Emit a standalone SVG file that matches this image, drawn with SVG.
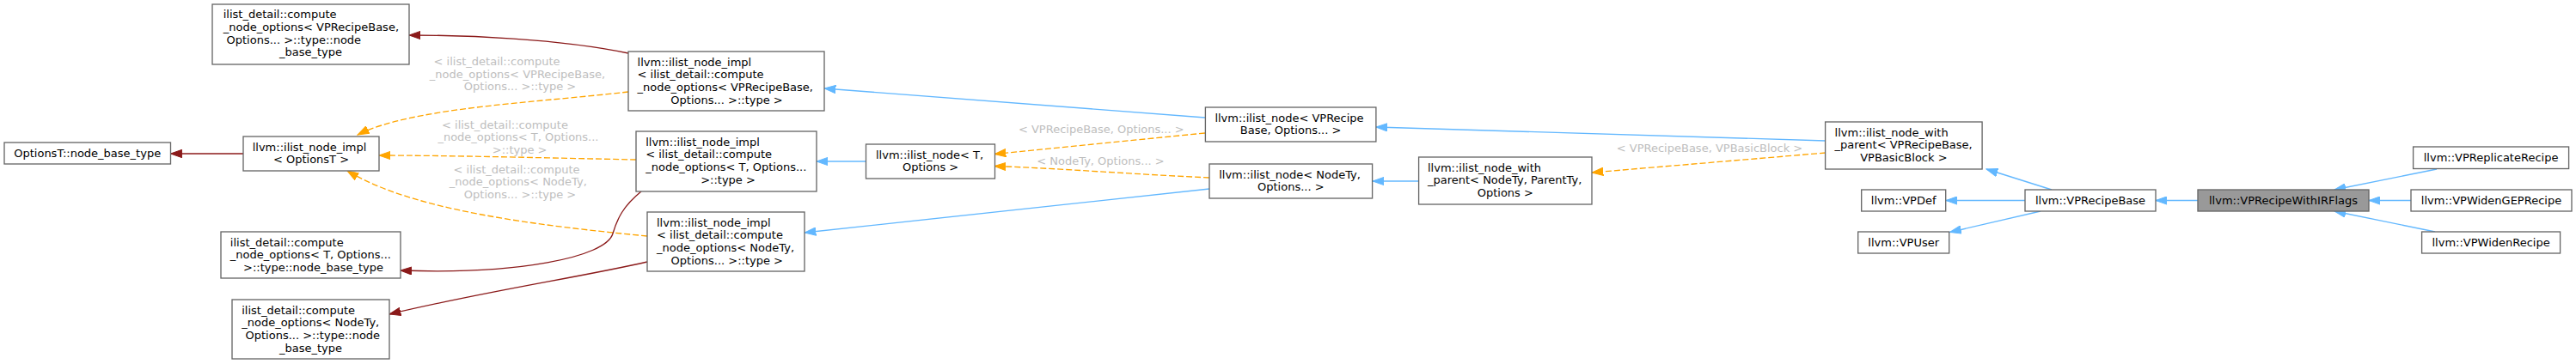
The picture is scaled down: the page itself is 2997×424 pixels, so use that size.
<svg xmlns="http://www.w3.org/2000/svg" width="2997" height="424" viewBox="0 0 2997 424">
<style>
text{font-family:"DejaVu Sans","Liberation Sans",sans-serif;font-size:13px;fill:#000}
.s{text-anchor:start}
.m{text-anchor:middle}
.lbl{fill:#bebebe}
rect{fill:#fff;stroke:#666;stroke-width:1.33}
rect.focus{fill:#999}
.e{fill:none;stroke-width:1.33}
.blue{stroke:#63b8ff;marker-end:url(#ab)}
.red{stroke:#8b1a1a;marker-end:url(#ar)}
.org{stroke:#ffa500;stroke-dasharray:7,3;marker-end:url(#ao)}
</style>
<defs>
<marker id="ab" viewBox="0 0 14 10" refX="13.3" refY="5" markerWidth="14" markerHeight="10" markerUnits="userSpaceOnUse" orient="auto"><path d="M0,0.3 L13.3,5 L0,9.7 z" fill="#63b8ff" stroke="#63b8ff" stroke-width="1"/></marker>
<marker id="ar" viewBox="0 0 14 10" refX="13.3" refY="5" markerWidth="14" markerHeight="10" markerUnits="userSpaceOnUse" orient="auto"><path d="M0,0.3 L13.3,5 L0,9.7 z" fill="#8b1a1a" stroke="#8b1a1a" stroke-width="1"/></marker>
<marker id="ao" viewBox="0 0 14 10" refX="13.3" refY="5" markerWidth="14" markerHeight="10" markerUnits="userSpaceOnUse" orient="auto"><path d="M0,0.3 L13.3,5 L0,9.7 z" fill="#ffa500" stroke="#ffa500" stroke-width="1"/></marker>
</defs>
<rect x="0" y="0" width="2997" height="424" style="fill:#fff;stroke:none"/>

<g id="edges">
<path class="e red" d="M283,179 L198.5,179"/>
<path class="e red" d="M731,62 C650,45 540,41 476,41"/>
<path class="e org" d="M731,107 C620,120 480,125 416,157"/>
<path class="e org" d="M740,186 C640,184 520,181 441,181"/>
<path class="e org" d="M753,275 C620,262 480,245 404,199"/>
<path class="e red" d="M746,223 C725,240 718,255 713,272 C705,300 600,320 466,315"/>
<path class="e red" d="M753,305 C680,322 560,340 453,366"/>
<path class="e blue" d="M1402,137 L959,103"/>
<path class="e blue" d="M1007.5,188 L950,188"/>
<path class="e blue" d="M1407,220 L936,271"/>
<path class="e org" d="M1402,155 L1157,179.5"/>
<path class="e org" d="M1407,207 C1320,203 1230,196 1157,193.5"/>
<path class="e blue" d="M2124,164 L1601,148"/>
<path class="e blue" d="M1650.6,211 L1597,211"/>
<path class="e org" d="M2124,178 L1852,201"/>
<path class="e blue" d="M2387,221 L2311,197"/>
<path class="e blue" d="M2356,233.5 L2264,233.5"/>
<path class="e blue" d="M2374,246 L2268.5,270.5"/>
<path class="e blue" d="M2557,233.5 L2508,233.5"/>
<path class="e blue" d="M2835,197 L2716,221"/>
<path class="e blue" d="M2805,233.5 L2756,233.5"/>
<path class="e blue" d="M2833,270 L2716,246"/>
<text class="lbl s" x="504.6" y="76">&lt; ilist_detail::compute</text>
<text class="lbl s" x="499.8" y="90.7">_node_options&lt; VPRecipeBase,</text>
<text class="lbl m" x="605" y="105.4">Options... &gt;::type &gt;</text>
<text class="lbl s" x="514" y="149.5">&lt; ilist_detail::compute</text>
<text class="lbl s" x="509.4" y="164.2">_node_options&lt; T, Options...</text>
<text class="lbl m" x="604.6" y="178.9">&gt;::type &gt;</text>
<text class="lbl s" x="527.6" y="201.5">&lt; ilist_detail::compute</text>
<text class="lbl s" x="522.8" y="216.2">_node_options&lt; NodeTy,</text>
<text class="lbl m" x="605" y="230.9">Options... &gt;::type &gt;</text>
<text class="lbl m" x="1281.3" y="155.2">&lt; VPRecipeBase, Options... &gt;</text>
<text class="lbl m" x="1280.5" y="192.2">&lt; NodeTy, Options... &gt;</text>
<text class="lbl m" x="1989" y="177.2">&lt; VPRecipeBase, VPBasicBlock &gt;</text>
</g>

<g id="node_compute_vprecipebase_base">
<rect x="247" y="5" width="229" height="70"/>
<text class="s" x="259.7" y="21.3">ilist_detail::compute</text>
<text class="s" x="259.7" y="36">_node_options&lt; VPRecipeBase,</text>
<text class="s" x="263.5" y="50.7">Options... &gt;::type::node</text>
<text class="m" x="361.5" y="65.4">_base_type</text>
</g>
<g id="node_optionsT_base">
<rect x="5" y="166" width="193.5" height="25"/>
<text class="m" x="101.7" y="182.7">OptionsT::node_base_type</text>
</g>
<g id="node_ilist_node_impl_optionsT">
<rect x="283" y="159" width="158" height="40"/>
<text class="s" x="293.7" y="175.5">llvm::ilist_node_impl</text>
<text class="m" x="362" y="190.2">&lt; OptionsT &gt;</text>
</g>
<g id="node_compute_T_base">
<rect x="257" y="270" width="209" height="54"/>
<text class="s" x="267.8" y="286.5">ilist_detail::compute</text>
<text class="s" x="267.8" y="301.2">_node_options&lt; T, Options...</text>
<text class="m" x="364.5" y="315.9">&gt;::type::node_base_type</text>
</g>
<g id="node_compute_NodeTy_base">
<rect x="270" y="349" width="183" height="69"/>
<text class="s" x="281.2" y="365.5">ilist_detail::compute</text>
<text class="s" x="281.2" y="380.2">_node_options&lt; NodeTy,</text>
<text class="s" x="285.5" y="394.9">Options... &gt;::type::node</text>
<text class="m" x="361.5" y="409.6">_base_type</text>
</g>
<g id="node_impl_vprecipebase">
<rect x="731" y="60" width="228" height="69"/>
<text class="s" x="741.6" y="76.5">llvm::ilist_node_impl</text>
<text class="s" x="741.6" y="91.2">&lt; ilist_detail::compute</text>
<text class="s" x="741.6" y="105.9">_node_options&lt; VPRecipeBase,</text>
<text class="m" x="845.5" y="120.6">Options... &gt;::type &gt;</text>
</g>
<g id="node_impl_T">
<rect x="740" y="153" width="210" height="70"/>
<text class="s" x="751.2" y="169.5">llvm::ilist_node_impl</text>
<text class="s" x="751.2" y="184.2">&lt; ilist_detail::compute</text>
<text class="s" x="751.2" y="198.9">_node_options&lt; T, Options...</text>
<text class="m" x="847" y="213.6">&gt;::type &gt;</text>
</g>
<g id="node_impl_NodeTy">
<rect x="753" y="247" width="183" height="69"/>
<text class="s" x="764" y="263.5">llvm::ilist_node_impl</text>
<text class="s" x="764" y="278.2">&lt; ilist_detail::compute</text>
<text class="s" x="764" y="292.9">_node_options&lt; NodeTy,</text>
<text class="m" x="845.8" y="307.6">Options... &gt;::type &gt;</text>
</g>
<g id="node_ilist_node_T">
<rect x="1007.5" y="168" width="150" height="40"/>
<text class="s" x="1019" y="184.5">llvm::ilist_node&lt; T,</text>
<text class="m" x="1082.6" y="199.2">Options &gt;</text>
</g>
<g id="node_ilist_node_vprecipebase">
<rect x="1402.4" y="125" width="198.5" height="40"/>
<text class="s" x="1413.4" y="141.5">llvm::ilist_node&lt; VPRecipe</text>
<text class="m" x="1501.6" y="156.2">Base, Options... &gt;</text>
</g>
<g id="node_ilist_node_NodeTy">
<rect x="1407" y="191" width="189.6" height="40"/>
<text class="s" x="1418.2" y="207.5">llvm::ilist_node&lt; NodeTy,</text>
<text class="m" x="1501.8" y="222.2">Options... &gt;</text>
</g>
<g id="node_with_parent_NodeTy">
<rect x="1650.6" y="183" width="201.4" height="55"/>
<text class="s" x="1661" y="199.5">llvm::ilist_node_with</text>
<text class="s" x="1661" y="214.2">_parent&lt; NodeTy, ParentTy,</text>
<text class="m" x="1751.3" y="228.9">Options &gt;</text>
</g>
<g id="node_with_parent_vprecipebase">
<rect x="2123.6" y="142" width="182.5" height="55"/>
<text class="s" x="2134.6" y="158.5">llvm::ilist_node_with</text>
<text class="s" x="2134.6" y="173.2">_parent&lt; VPRecipeBase,</text>
<text class="m" x="2214.9" y="187.9">VPBasicBlock &gt;</text>
</g>
<g id="node_VPDef">
<rect x="2165.7" y="221" width="98" height="25"/>
<text class="m" x="2214.7" y="237.7">llvm::VPDef</text>
</g>
<g id="node_VPUser">
<rect x="2161.7" y="270" width="106" height="25"/>
<text class="m" x="2214.7" y="286.7">llvm::VPUser</text>
</g>
<g id="node_VPRecipeBase">
<rect x="2356" y="221" width="152" height="25"/>
<text class="m" x="2432" y="237.7">llvm::VPRecipeBase</text>
</g>
<g id="node_VPRecipeWithIRFlags">
<rect class="focus" x="2557" y="221" width="199" height="25"/>
<text class="m" x="2656.5" y="237.7">llvm::VPRecipeWithIRFlags</text>
</g>
<g id="node_VPReplicateRecipe">
<rect x="2807.6" y="171" width="181" height="25.5"/>
<text class="m" x="2898.1" y="188">llvm::VPReplicateRecipe</text>
</g>
<g id="node_VPWidenGEPRecipe">
<rect x="2805" y="221" width="187" height="25"/>
<text class="m" x="2898.5" y="237.7">llvm::VPWidenGEPRecipe</text>
</g>
<g id="node_VPWidenRecipe">
<rect x="2817.6" y="270" width="161" height="25"/>
<text class="m" x="2898.1" y="286.7">llvm::VPWidenRecipe</text>
</g>
</svg>
